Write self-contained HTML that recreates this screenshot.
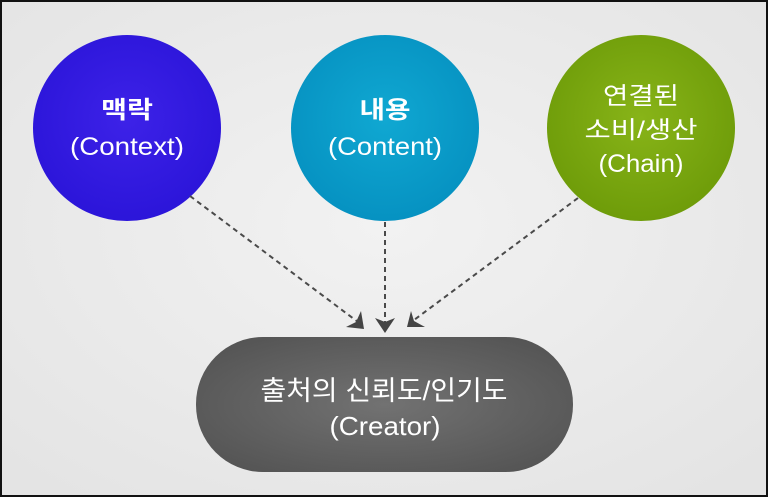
<!DOCTYPE html>
<html><head><meta charset="utf-8"><style>
html,body{margin:0;padding:0;}
body{width:768px;height:497px;overflow:hidden;background:#111;}
svg{display:block}
text{font-family:"Liberation Sans","Noto Sans CJK KR","NanumGothic",sans-serif;fill:#fff;text-anchor:middle}
</style></head><body>
<svg width="768" height="497" viewBox="0 0 768 497">
<defs>
<radialGradient id="bg" cx="50%" cy="45%" r="70%"><stop offset="0" stop-color="#f2f2f2"/><stop offset="1" stop-color="#e4e4e4"/></radialGradient>
<radialGradient id="g1" cx="50%" cy="45%" r="60%"><stop offset="0" stop-color="#3d22e8"/><stop offset="1" stop-color="#2a14d8"/></radialGradient>
<radialGradient id="g2" cx="50%" cy="45%" r="60%"><stop offset="0" stop-color="#10a8d2"/><stop offset="1" stop-color="#0590c0"/></radialGradient>
<radialGradient id="g3" cx="50%" cy="45%" r="60%"><stop offset="0" stop-color="#88b418"/><stop offset="1" stop-color="#6c9a08"/></radialGradient>
<radialGradient id="g4" cx="50%" cy="50%" r="60%"><stop offset="0" stop-color="#727272"/><stop offset="1" stop-color="#555"/></radialGradient>
</defs>
<rect x="2" y="2" width="764" height="493" fill="url(#bg)"/>
<ellipse cx="127" cy="128" rx="94" ry="93" fill="url(#g1)"/>
<ellipse cx="385" cy="128" rx="94" ry="93" fill="url(#g2)"/>
<ellipse cx="641" cy="128" rx="94" ry="93" fill="url(#g3)"/>
<rect x="196" y="337" width="377" height="135" rx="67" fill="url(#g4)"/>
<g stroke="#4a4a4a" stroke-width="2" stroke-dasharray="5,4" fill="none">
<line x1="190" y1="196" x2="358" y2="322"/>
<line x1="385" y1="222" x2="385" y2="322"/>
<line x1="578" y1="198" x2="414" y2="320"/>
</g>
<g fill="#444">
<polygon points="364,329 346,327 356,322 361,311"/>
<polygon points="385,333 375,318 385,322 395,318"/>
<polygon points="407,327 411,311 414,321 425,327"/>
</g>
<text x="127" y="118" font-size="24" font-weight="bold" textLength="52" lengthAdjust="spacingAndGlyphs">맥락</text>
<text x="127" y="155" font-size="25" textLength="114" lengthAdjust="spacingAndGlyphs">(Context)</text>
<text x="385" y="118" font-size="24" font-weight="bold" textLength="51" lengthAdjust="spacingAndGlyphs">내용</text>
<text x="385" y="155" font-size="25" textLength="114" lengthAdjust="spacingAndGlyphs">(Content)</text>
<text x="641" y="104" font-size="24" textLength="76" lengthAdjust="spacingAndGlyphs">연결된</text>
<text x="641" y="138" font-size="24" textLength="113" lengthAdjust="spacingAndGlyphs">소비/생산</text>
<text x="641" y="172" font-size="25" textLength="85" lengthAdjust="spacingAndGlyphs">(Chain)</text>
<text x="384" y="400" font-size="27" textLength="247" lengthAdjust="spacingAndGlyphs">출처의 신뢰도/인기도</text>
<text x="385" y="435" font-size="26" textLength="111" lengthAdjust="spacingAndGlyphs">(Creator)</text>
</svg>
</body></html>
